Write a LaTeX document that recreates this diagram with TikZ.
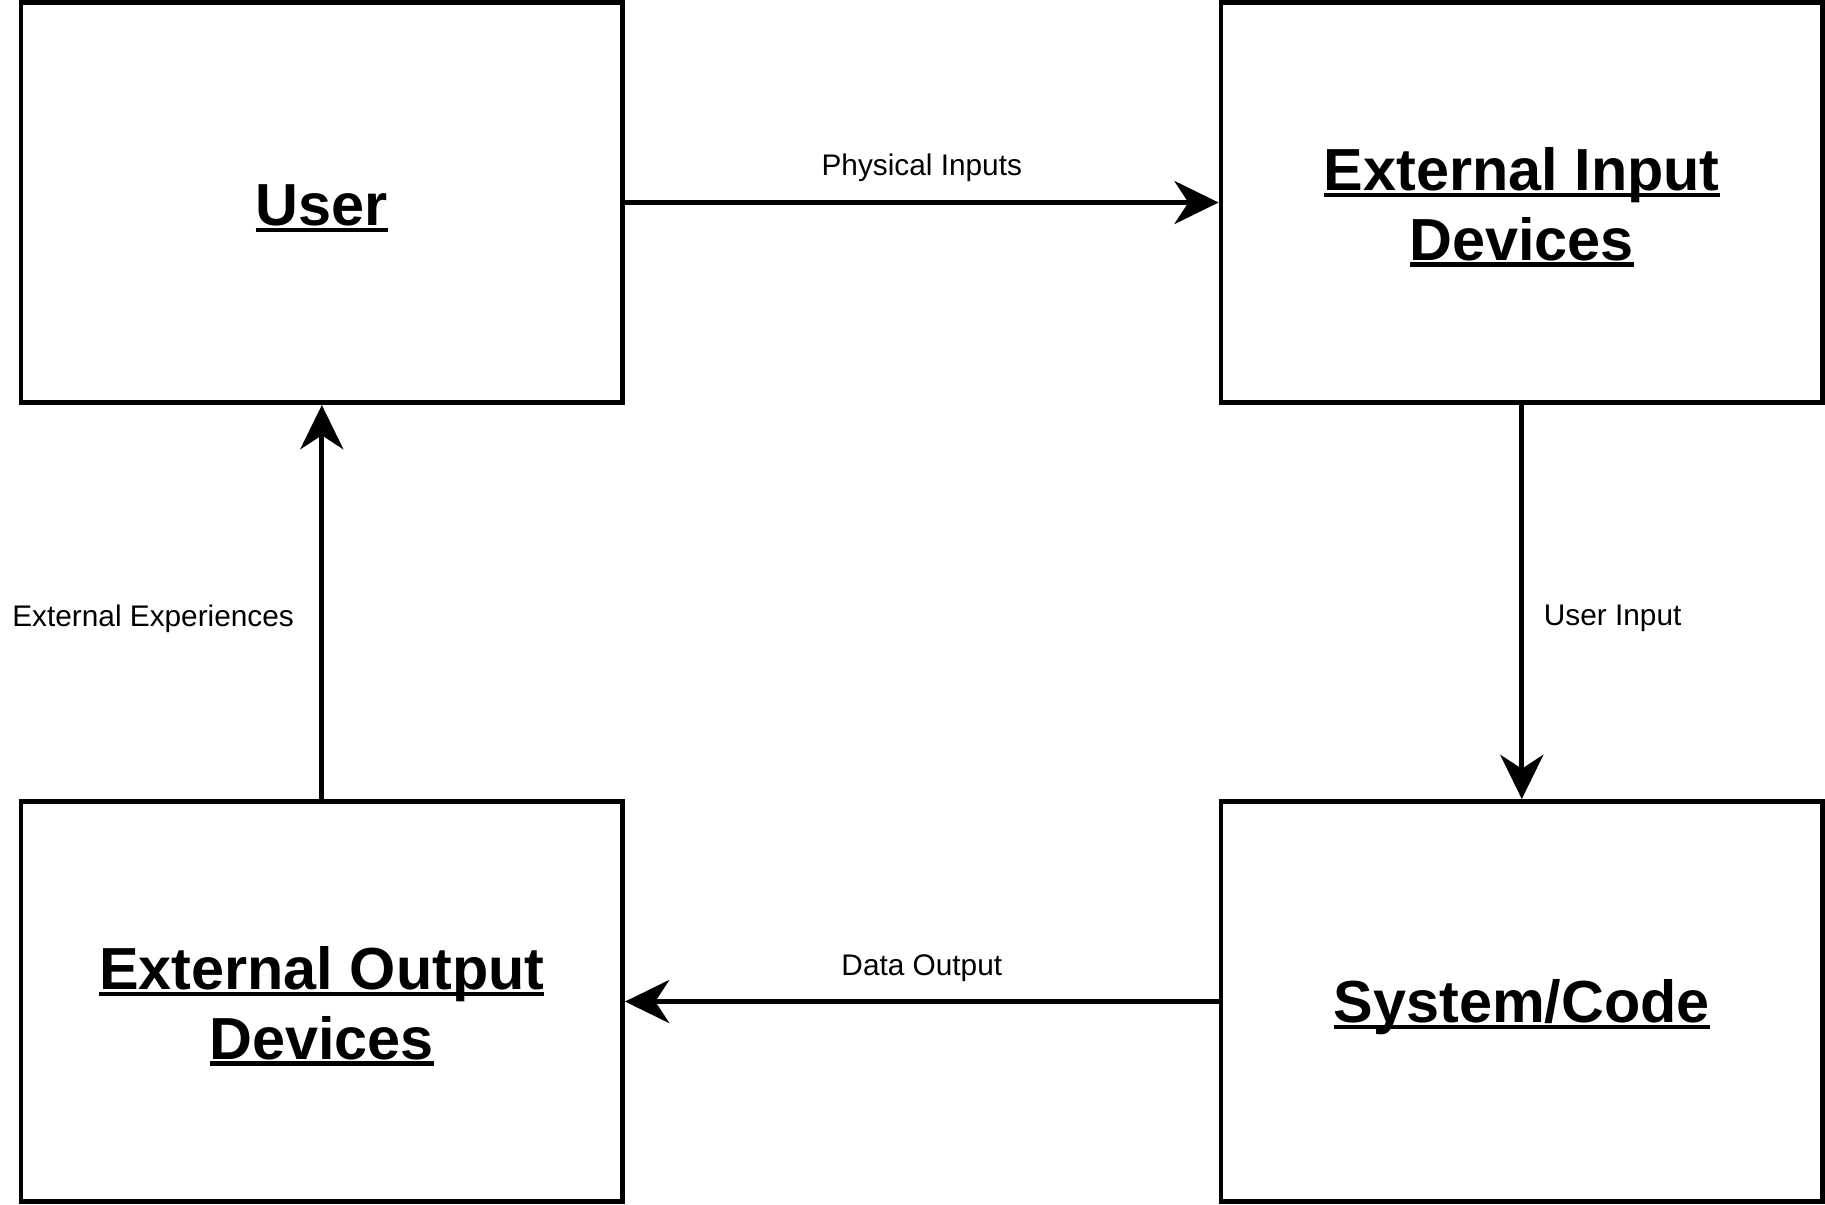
\documentclass[tikz,border=0pt]{standalone}
\usepackage{fontspec}
\setmainfont{Liberation Sans}
\usetikzlibrary{arrows.meta}
\newcommand\myul[1]{\setbox0\hbox{#1}\rlap{\rule[-0.11em]{\wd0}{0.075em}}\box0}
\tikzset{
  box/.style={draw, line width=4pt, minimum width=517pt, minimum height=344pt, inner sep=0pt},
  title/.style={align=center, font=\fontsize{51}{60}\selectfont\bfseries, inner sep=0pt},
  conn/.style={line width=4pt, -{Stealth[length=38pt, width=37pt, inset=12pt]}},
  lbl/.style={font=\fontsize{25.6}{30}\selectfont, inner sep=0pt}
}
\begin{document}
\begin{tikzpicture}[x=1pt,y=-1pt]
\useasboundingbox (0,0) rectangle (1568,1035);
\node[box] (user) at (276.5,174) {};
\node[box] (ein) at (1307.5,174) {};
\node[box] (eout) at (276.5,860.5) {};
\node[box] (sys) at (1307.5,860.5) {};
\node[title] (tuser) at ([yshift=-5pt]user.center) {\myul{User}};
\node[title] (tein) at ([yshift=-4pt]ein.center) {\myul{External Input}\\\myul{Devices}};
\node[title] (teout) at ([yshift=-4pt]eout.center) {\myul{External Output}\\\myul{Devices}};
\node[title] (tsys) at ([yshift=-5pt]sys.center) {\myul{System/Code}};
\draw[conn] (user.east) -- node[lbl, yshift=30pt] {Physical Inputs} (ein.west);
\draw[conn] (ein.south) -- node[lbl, anchor=west, xshift=17pt, yshift=-14pt] {User Input} (sys.north);
\draw[conn] (sys.west) -- node[lbl, yshift=29pt] {Data Output} (eout.east);
\draw[conn] (eout.north) -- node[lbl, anchor=east, xshift=-22pt, yshift=-14pt] {External Experiences} (user.south);
\end{tikzpicture}
\end{document}
